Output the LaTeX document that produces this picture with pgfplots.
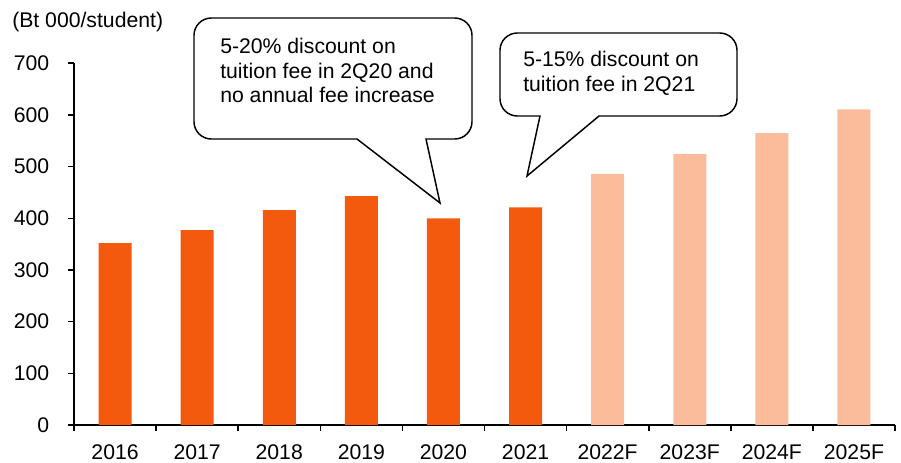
\documentclass[border=0pt]{standalone}
\usepackage{fontspec}
\setmainfont{Liberation Sans}
\usepackage{pgfplots}
\pgfplotsset{compat=1.18}
\definecolor{darkor}{RGB}{244,90,14}
\definecolor{lightor}{RGB}{250,188,155}
\newcommand\lbl{\fontsize{15.9}{19}\selectfont}

\begin{document}
\begin{tikzpicture}
\begin{axis}[
    scale only axis,
    width=615.75pt, height=271.3pt,
    ybar, bar width=24.75pt,
    xmin=-0.5, xmax=9.5,
    ymin=0, ymax=700,
    ytick={0,100,...,700},
    xtick={-0.5,0.5,...,9.5},
    x tick label as interval,
    xticklabels={2016,2017,2018,2019,2020,2021,2022F,2023F,2024F,2025F},
    axis x line*=bottom, axis y line*=left,
    axis line style={line width=1.2pt,-},
    tick align=outside,
    major tick length=4.5pt,
    tick style={line width=1.2pt,black},
    ticklabel style={font=\lbl},
    yticklabel style={xshift=-10.5pt},
    xticklabel style={yshift=-6.5pt},
    /pgf/number format/assume math mode=true,
    clip=false,
]
\addplot[fill=darkor, draw=none, bar shift=0pt] coordinates {
    (0,352) (1,377) (2,416) (3,443) (4,400) (5,421)
};
\addplot[fill=lightor, draw=none, bar shift=0pt] coordinates {
    (6,486) (7,524) (8,565) (9,611)
};
\end{axis}

\pgfresetboundingbox
\begin{scope}[shift={(current axis.south west)}, x=0.75pt, y=-0.75pt, shift={(-74,-425)}]
  \path (0,0) rectangle (901,462);
  \node[anchor=base west, inner sep=0pt, font=\lbl] at (12,27.3) {(Bt 000/student)};

  % first call-out
  \draw[line width=1.1pt, fill=white] (440,203) -- (357,139) [rounded corners=13]
    -- (194,139) -- (194,18) -- (472,18) -- (472,139) [sharp corners] -- (426,139) -- cycle;
  \node[anchor=base west, inner sep=0pt, font=\lbl] at (220,53.5) {5-20\% discount on};
  \node[anchor=base west, inner sep=0pt, font=\lbl] at (220,78) {tuition fee in 2Q20 and};
  \node[anchor=base west, inner sep=0pt, font=\lbl] at (220,102.5) {no annual fee increase};

  % second call-out
  \draw[line width=1.1pt, fill=white] (527,176) -- (540,116) [rounded corners=13]
    -- (500,116) -- (500,33) -- (737,33) -- (737,116) [sharp corners] -- (599,116) -- cycle;
  \node[anchor=base west, inner sep=0pt, font=\lbl] at (523,66.5) {5-15\% discount on};
  \node[anchor=base west, inner sep=0pt, font=\lbl] at (523,91.5) {tuition fee in 2Q21};
\end{scope}
\end{tikzpicture}
\end{document}
